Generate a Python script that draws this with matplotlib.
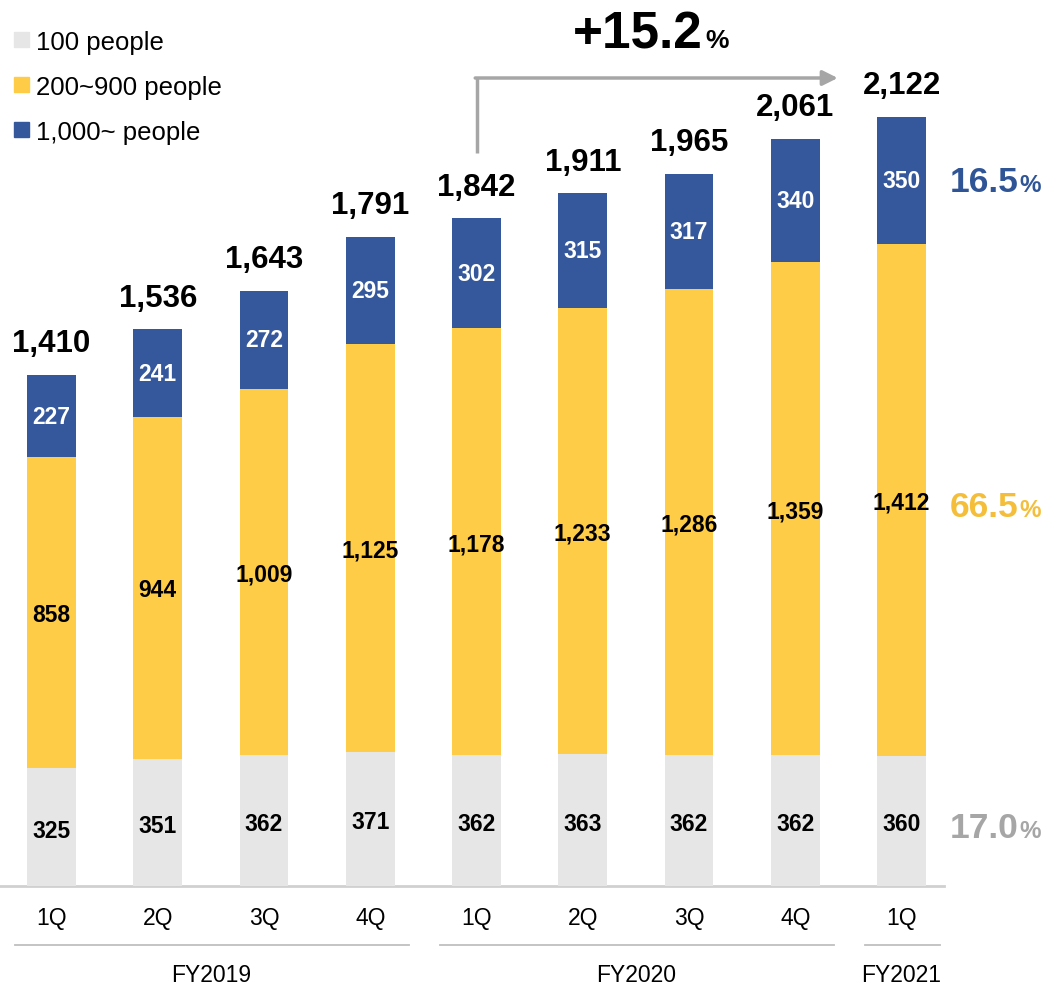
import matplotlib
matplotlib.use("Agg")
import matplotlib.pyplot as plt
from matplotlib.patches import Patch

plt.rcParams['font.family'] = ['Liberation Sans', 'DejaVu Sans']

# Quarterly client counts by company size
quarters = ['1Q', '2Q', '3Q', '4Q', '1Q', '2Q', '3Q', '4Q', '1Q']
years = ['FY2019', 'FY2020', 'FY2021']
year_span = [(0, 3), (4, 7), (8, 8)]
small = [325, 351, 362, 371, 362, 363, 362, 362, 360]
mid = [858, 944, 1009, 1125, 1178, 1233, 1286, 1359, 1412]
large = [227, 241, 272, 295, 302, 315, 317, 340, 350]
totals = [1410, 1536, 1643, 1791, 1842, 1911, 1965, 2061, 2122]

c_small = '#E6E6E6'
c_mid = '#FFCC47'
c_large = '#35589C'

fig = plt.figure(figsize=(10.52, 9.87), dpi=100)
ax = fig.add_axes([0, 100 / 987, 1, 887 / 987])

px_per_unit = 0.3624
ymax = 887 / px_per_unit
ax.set_ylim(0, ymax)
step = 106.25
ax.set_xlim(-51.5 / step, (1052 - 51.5) / step)
for s in ax.spines.values():
    s.set_visible(False)
ax.set_yticks([])
ax.set_xticks([])

x = list(range(len(quarters)))
w = 0.46
ax.bar(x, small, w, color=c_small, zorder=2)
ax.bar(x, mid, w, bottom=small, color=c_mid, zorder=2)
bottom_large = [a + b for a, b in zip(small, mid)]
ax.bar(x, large, w, bottom=bottom_large, color=c_large, zorder=2)

# segment labels
for i in x:
    ax.text(i, small[i] / 2 - 8, f'{small[i]:,}', ha='center', va='center',
            fontsize=16.5, fontweight='bold', color='black', zorder=3)
    ax.text(i, small[i] + mid[i] / 2 - 6, f'{mid[i]:,}', ha='center', va='center',
            fontsize=16.5, fontweight='bold', color='black', zorder=3)
    ax.text(i, bottom_large[i] + large[i] / 2, f'{large[i]:,}', ha='center',
            va='center', fontsize=16.5, fontweight='bold', color='white', zorder=3)
    ax.annotate(f'{totals[i]:,}', (i, totals[i]), xytext=(0, 12),
                textcoords='offset points', ha='center', va='bottom',
                fontsize=22.5, fontweight='bold', color='black')

# baseline
ax.plot([-0.49, 8.4], [0, 0], color='#D0D0D0', lw=2, clip_on=False, zorder=1)

def below(px):
    return -px / px_per_unit

for i, q in enumerate(quarters):
    ax.text(i, below(32), q, ha='center', va='center', fontsize=16.5, clip_on=False)

for name, (a, b) in zip(years, year_span):
    ax.plot([a - 0.34, b + 0.36], [below(59), below(59)], color='#BFBFBF',
            lw=1.3, clip_on=False)
    ax.text((a + b) / 2, below(89), name, ha='center', va='center',
            fontsize=16.5, clip_on=False)

# share of each size band in the latest quarter
last = len(quarters) - 1
share_pos = [small[last] / 2 - 18, small[last] + mid[last] / 2 - 20,
             bottom_large[last] + large[last] / 2 - 4]
share_val = [small[last], mid[last], large[last]]
share_col = ['#A6A6A6', '#F4BE3A', '#2F5597']
for yv, v, c in zip(share_pos, share_val, share_col):
    ax.annotate(f'{v / totals[last] * 100:.1f}', (last, yv), xytext=(35, 0),
                textcoords='offset points', ha='left', va='center',
                fontsize=25.5, fontweight='bold', color=c)
    ax.annotate('%', (last, yv), xytext=(85, -2), textcoords='offset points',
                ha='left', va='center', fontsize=17.5, fontweight='bold', color=c)

# growth arrow from FY2020 1Q to FY2021 1Q
y_arrow = ymax - 79 / px_per_unit
ax.plot([4, 4], [totals[4] + 180, y_arrow], color='#A6A6A6', lw=2.5,
        solid_capstyle='butt')
ax.annotate('', xy=(7.4, y_arrow), xytext=(4 - 0.012, y_arrow),
            arrowprops=dict(arrowstyle='-|>,head_length=0.9,head_width=0.45',
                            color='#A6A6A6', lw=2.5, shrinkA=0, shrinkB=0))
growth = (totals[last] / totals[4] - 1) * 100
ax.text(6.13, ymax - 35 / px_per_unit, f'+{growth:.1f}',
        ha='right', va='center', fontsize=37, fontweight='bold')
ax.text(6.15, ymax - 41 / px_per_unit, '%',
        ha='left', va='center', fontsize=19, fontweight='bold')

handles = [Patch(color=c_small, label='100 people'),
           Patch(color=c_mid, label='200~900 people'),
           Patch(color=c_large, label='1,000~ people')]
ax.legend(handles=handles, loc='upper left', bbox_to_anchor=(0.004, 0.977),
          frameon=False, fontsize=18.5, handlelength=0.55, handleheight=0.55,
          handletextpad=0.3, labelspacing=0.82, borderaxespad=0)

fig.savefig('out.png', dpi=100)
